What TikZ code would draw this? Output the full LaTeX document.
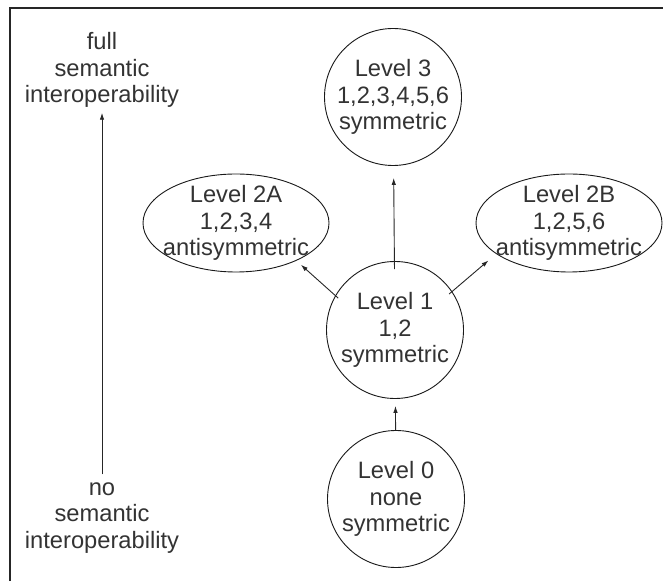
\documentclass[tikz,border=0pt]{standalone}
\usepackage{fontspec}
\setmainfont{Liberation Sans}
\usepackage{xcolor}
\usetikzlibrary{arrows.meta,shapes.geometric}

\definecolor{inkgray}{HTML}{333333}

\tikzset{
    level/.style={draw=black!90, line width=0.9pt, circle, inner sep=0pt, minimum size=137pt,
        align=center, text=inkgray, font=\fontsize{23.7}{26.5}\selectfont},
    levelwide/.style={level, ellipse, inner xsep=-8pt, inner ysep=-3pt, minimum width=186pt, minimum height=98pt},
    caption/.style={align=center, inner sep=0pt, text=inkgray, font=\fontsize{23.7}{26.5}\selectfont},
    conn/.style={draw=black!85, line width=0.9pt, -{Latex[length=7pt,width=4.5pt]}}
}

\begin{document}
\begin{tikzpicture}[x=1pt,y=1pt]
        \useasboundingbox (0,0) rectangle (663,581);
        \draw [line width=1.8pt, draw=black!85] (10,0) -- (10,573) -- (663,573);

        \node [caption] (full) at (102,511) {full\\semantic\\interoperability};
        \node [caption] (nosem) at (102,63) {no\\semantic\\interoperability};
        \draw [conn, shorten <=8pt, shorten >=5pt] (nosem.north) -- (full.south);

        \node [level] (lvl3) at (393,484) {Level 3\\1,2,3,4,5,6\\symmetric};
        \node [level] (lvl1) at (395,251) {Level 1\\1,2\\symmetric};
        \node [level] (lvl0) at (396,82) {Level 0\\none\\symmetric};
        \node [levelwide] (lvl2a) at (236,358) {Level 2A\\1,2,3,4\\antisymmetric};
        \node [levelwide] (lvl2b) at (569,358) {Level 2B\\1,2,5,6\\antisymmetric};

        \draw [conn, shorten >=7pt] (lvl0) -- (lvl1);
        \draw [conn, shorten <=-8pt, shorten >=12pt] (lvl1) -- (lvl3);
        \draw [conn, shorten <=-4pt, shorten >=6pt] (lvl1.150) -- (lvl2a.-32);
        \draw [conn, shorten <=-4pt, shorten >=10pt] (lvl1.34) -- (lvl2b.203);
    \end{tikzpicture}
\end{document}
